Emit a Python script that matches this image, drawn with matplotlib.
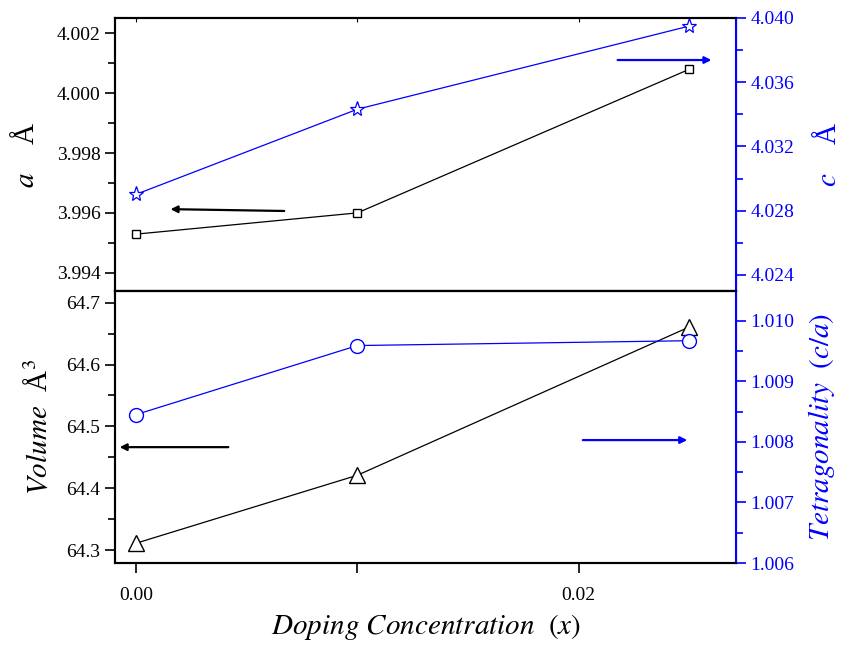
import numpy as np
import matplotlib.pyplot as plt
from matplotlib.ticker import MultipleLocator, FixedLocator

# --- data ---
doping = [0.0, 0.01, 0.025]
lat_a = [3.99529, 3.99600, 4.00080]
lat_c = [4.02902, 4.03432, 4.03950]
volume = [64.311, 64.421, 64.661]
tetra = [1.00845, 1.00959, 1.00967]

plt.rcParams['font.family'] = ['Liberation Serif', 'DejaVu Serif']
plt.rcParams['mathtext.fontset'] = 'stix'
blue = '#0000ff'

fig = plt.figure(figsize=(8.53, 6.47), dpi=100)
ax1 = fig.add_axes([0.1348, 0.5502, 0.7280, 0.4220])
ax2 = fig.add_axes([0.1348, 0.1298, 0.7280, 0.4204])
ax1r = ax1.twinx()
ax2r = ax2.twinx()

# === TOP PANEL: a and c ===
ax1.plot(doping, lat_a, color='black', lw=0.9, marker='s', ms=6,
         mfc='white', mec='black', mew=1.0)
ax1r.plot(doping, lat_c, color=blue, lw=0.9, marker='*', ms=11,
          mfc='white', mec=blue, mew=0.9)
ax1.set_ylim(3.99339, 4.00251)
ax1r.set_ylim(4.0230, 4.0400)
ax1.yaxis.set_major_locator(MultipleLocator(0.002))
ax1.yaxis.set_minor_locator(MultipleLocator(0.001))
ax1r.yaxis.set_major_locator(MultipleLocator(0.004))
ax1r.yaxis.set_minor_locator(MultipleLocator(0.002))
ax1.yaxis.set_major_formatter(plt.FormatStrFormatter('%.3f'))
ax1r.yaxis.set_major_formatter(plt.FormatStrFormatter('%.3f'))
ax1.set_ylabel(r'$a$    Å', fontsize=21, labelpad=12)
ax1r.set_ylabel(r'$c$    Å', fontsize=21, color=blue, labelpad=14)

# === BOTTOM PANEL: volume and tetragonality ===
ax2.plot(doping, volume, color='black', lw=0.9, marker='^', ms=11,
         mfc='white', mec='black', mew=1.0)
ax2r.plot(doping, tetra, color=blue, lw=0.9, marker='o', ms=10,
          mfc='white', mec=blue, mew=1.0)
ax2.set_ylim(64.279, 64.719)
ax2r.set_ylim(1.0060, 1.01049)
ax2.yaxis.set_major_locator(MultipleLocator(0.1))
ax2.yaxis.set_minor_locator(MultipleLocator(0.05))
ax2r.yaxis.set_major_locator(MultipleLocator(0.001))
ax2r.yaxis.set_minor_locator(MultipleLocator(0.0005))
ax2.yaxis.set_major_formatter(plt.FormatStrFormatter('%.1f'))
ax2r.yaxis.set_major_formatter(plt.FormatStrFormatter('%.3f'))
ax2.set_ylabel(r'$Volume$  Å$^3$', fontsize=21, labelpad=10)
ax2r.set_ylabel(r'$Tetragonality\ \ (c/a)$', fontsize=21, color=blue, labelpad=8)
ax2.set_xlabel(r'$Doping\ Concentration\ \ (x)$', fontsize=21, labelpad=6)

# x axes
for ax in (ax1, ax2):
    ax.set_xlim(-0.00095, 0.0271)
ax2.xaxis.set_major_locator(FixedLocator([0.0, 0.02]))
ax2.xaxis.set_minor_locator(FixedLocator([0.01]))
ax2.xaxis.set_major_formatter(plt.FormatStrFormatter('%.2f'))
ax2.tick_params(axis='x', which='both', direction='out', length=7, width=1.2,
                labelsize=14, pad=10)
ax1.xaxis.set_major_locator(FixedLocator([0.0, 0.01, 0.02]))
ax1.tick_params(axis='x', which='both', bottom=False, top=True, direction='in',
                length=3, labelbottom=False)

# y tick style
for ax in (ax1, ax2):
    ax.tick_params(axis='y', which='major', direction='out', length=7, width=1.2,
                   labelsize=14)
    ax.tick_params(axis='y', which='minor', direction='out', length=5, width=1.2)
for ax in (ax1r, ax2r):
    ax.tick_params(axis='y', which='major', direction='out', length=7, width=1.2,
                   labelsize=14, colors=blue)
    ax.tick_params(axis='y', which='minor', direction='out', length=5, width=1.2,
                   colors=blue)
    ax.spines['right'].set_color(blue)
    ax.spines['right'].set_linewidth(1.5)

for ax in (ax1, ax2, ax1r, ax2r):
    for side in ('top', 'bottom', 'left'):
        ax.spines[side].set_linewidth(1.5)

# direction arrows
arrow_k = dict(arrowstyle='-|>', color='black', lw=1.6, mutation_scale=10)
arrow_b = dict(arrowstyle='-|>', color=blue, lw=1.6, mutation_scale=10)
ax1.annotate('', xy=(0.085, 0.30), xytext=(0.277, 0.293),
             xycoords='axes fraction', arrowprops=arrow_k)
ax1.annotate('', xy=(0.965, 0.846), xytext=(0.805, 0.846),
             xycoords='axes fraction', arrowprops=arrow_b)
ax2.annotate('', xy=(0.003, 0.426), xytext=(0.187, 0.426),
             xycoords='axes fraction', arrowprops=arrow_k)
ax2.annotate('', xy=(0.926, 0.452), xytext=(0.749, 0.452),
             xycoords='axes fraction', arrowprops=arrow_b)

fig.savefig('out.png', dpi=100)
